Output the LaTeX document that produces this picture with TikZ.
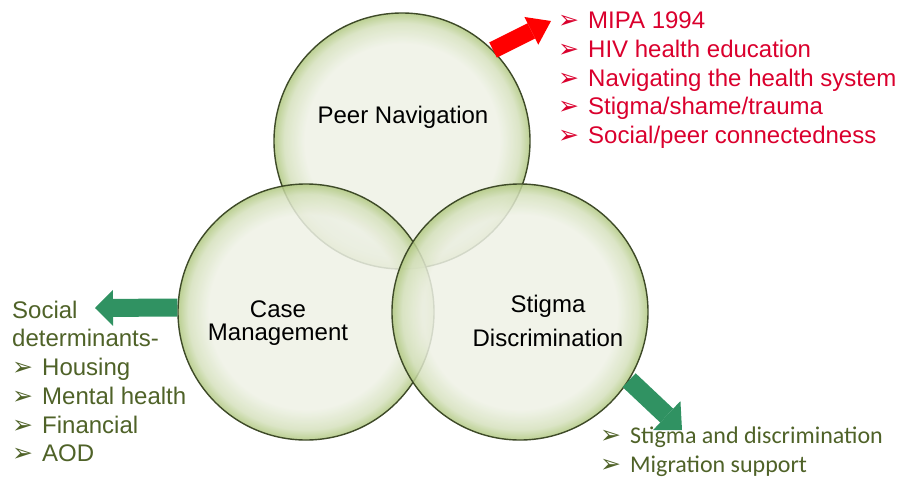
\documentclass[tikz,border=0pt]{standalone}
\usepackage{fontspec}
\setmainfont{Liberation Sans}
\newfontfamily\calibrifont{Carlito}
\newfontfamily\dingfont{DejaVu Sans}
\usetikzlibrary{arrows.meta}

\definecolor{bubbleedge}{RGB}{62,74,40}
\definecolor{bubbleinner}{RGB}{238,241,229}
\definecolor{bubblerim}{RGB}{176,200,128}
\definecolor{peerred}{RGB}{218,0,45}
\definecolor{arrowred}{RGB}{255,0,0}
\definecolor{olivetext}{RGB}{79,98,40}
\definecolor{arrowgreen}{RGB}{48,146,98}

\pgfdeclareradialshading{bubble}{\pgfpoint{0bp}{0bp}}{%
  color(0bp)=(bubbleinner); color(19bp)=(bubbleinner);
  color(23bp)=(bubblerim!40!bubbleinner); color(25bp)=(bubblerim); color(50bp)=(bubblerim)}

\newcommand{\arrowbullet}[1]{\makebox[#1][l]{\dingfont\fontsize{25}{25}\selectfont ➢}}

\begin{document}
\begin{tikzpicture}[x=1pt, y=-1pt,
    bubble/.style={circle, draw=bubbleedge, line width=1.4pt, shade, shading=bubble,
        fill opacity=0.85, minimum size=256pt, inner sep=0pt},
    circletext/.style={anchor=base, inner sep=0pt, font=\fontsize{24}{24}\selectfont},
    redlist/.style={anchor=base west, inner sep=0pt, text=peerred, font=\fontsize{24}{24}\selectfont},
    olivelist/.style={anchor=base west, inner sep=0pt, text=olivetext, font=\fontsize{24}{24}\selectfont},
    migrantlist/.style={anchor=base west, inner sep=0pt, text=olivetext, font=\calibrifont\fontsize{24}{24}\selectfont}]
    \useasboundingbox (0,0) rectangle (897,483);

    % the three circles
    \node[bubble] (peer) at (402,141) {};
    \node[bubble] (case) at (306,312) {};
    \node[bubble] (stigma) at (520,312) {};

    \node[circletext] (peerlabel) at (403,123) {Peer Navigation};
    \node[circletext] (caselabel) at (278,317) {Case};
    \node[circletext] (caselabeltwo) at (278,340) {Management};
    \node[circletext] (stigmalabel) at (548,312) {Stigma};
    \node[circletext] (stigmalabeltwo) at (548,346) {Discrimination};

    % block arrows
    \coordinate (redtip) at (551,21);
    \coordinate (lefttip) at (95,308);
    \coordinate (righttip) at (682,430);
    \draw[arrowred, line width=17pt, -{Triangle[length=22pt, width=31pt, line width=0pt]}] (peer.45) -- (redtip);
    \draw[arrowgreen, line width=18pt, -{Triangle[length=18pt, width=36pt, line width=0pt]}] (case.178) -- (lefttip);
    \draw[arrowgreen, line width=19pt, -{Triangle[length=21pt, width=40pt, line width=0pt]}] (stigma.-32) -- (righttip);

    % peer navigation list
    \node[redlist] (mipa) at (558,28) {\arrowbullet{30pt}MIPA 1994};
    \node[redlist] (hiv) at (558,57) {\arrowbullet{30pt}HIV health education};
    \node[redlist] (navigating) at (558,86) {\arrowbullet{30pt}Navigating the health system};
    \node[redlist] (shame) at (558,114) {\arrowbullet{30pt}Stigma/shame/trauma};
    \node[redlist] (connected) at (558,143) {\arrowbullet{30pt}Social/peer connectedness};

    % case management list
    \node[olivelist] (social) at (12,318) {Social};
    \node[olivelist] (determinants) at (12,346) {determinants-};
    \node[olivelist] (housing) at (12,375) {\arrowbullet{30pt}Housing};
    \node[olivelist] (mental) at (12,404) {\arrowbullet{30pt}Mental health};
    \node[olivelist] (financial) at (12,433) {\arrowbullet{30pt}Financial};
    \node[olivelist] (aod) at (12,461) {\arrowbullet{30pt}AOD};

    % stigma list
    \node[migrantlist] (discrimination) at (600,443) {\arrowbullet{30pt}Stigma and discrimination};
    \node[migrantlist] (migration) at (600,472) {\arrowbullet{30pt}Migration support};
\end{tikzpicture}
\end{document}
